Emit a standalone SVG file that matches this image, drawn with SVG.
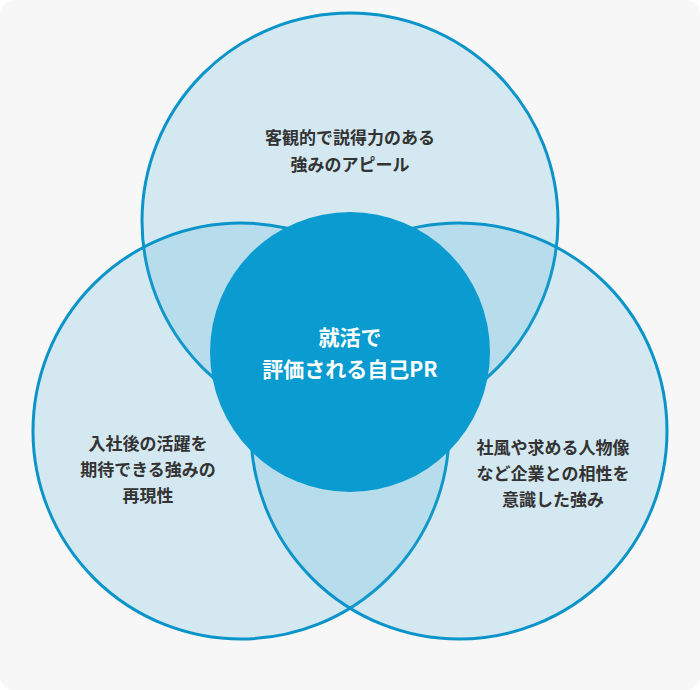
<svg xmlns="http://www.w3.org/2000/svg" width="700" height="690" viewBox="0 0 700 690">
<style>
.c{fill:#3aa8d8;fill-opacity:0.18;stroke:#0a94c9;stroke-width:3}
.t{font-family:"Noto Sans CJK JP","Noto Sans",sans-serif;font-weight:bold;font-size:17px;fill:#333;text-anchor:middle}
.w{font-family:"Noto Sans CJK JP","Noto Sans",sans-serif;font-weight:bold;font-size:21px;fill:#fff;text-anchor:middle}
</style>
<rect width="700" height="690" rx="14" fill="#f7f7f7"/>
<g id="top"><circle class="c" cx="350" cy="221" r="208"/><text class="t" x="350" y="144">客観的で説得力のある</text><text class="t" x="350" y="171">強みのアピール</text></g>
<g id="left"><circle class="c" cx="241" cy="431" r="208"/><text class="t" x="148" y="450">入社後の活躍を</text><text class="t" x="148" y="476">期待できる強みの</text><text class="t" x="148" y="502">再現性</text></g>
<g id="right"><circle class="c" cx="459" cy="431" r="208"/><text class="t" x="553" y="454">社風や求める人物像</text><text class="t" x="553" y="480">など企業との相性を</text><text class="t" x="553" y="506">意識した強み</text></g>
<g id="center"><circle cx="350" cy="352" r="140" fill="#0a9bd0"/><text class="w" x="350" y="345">就活で</text><text class="w" x="350" y="377">評価される自己PR</text></g>
<g id="connectors"/>
</svg>
